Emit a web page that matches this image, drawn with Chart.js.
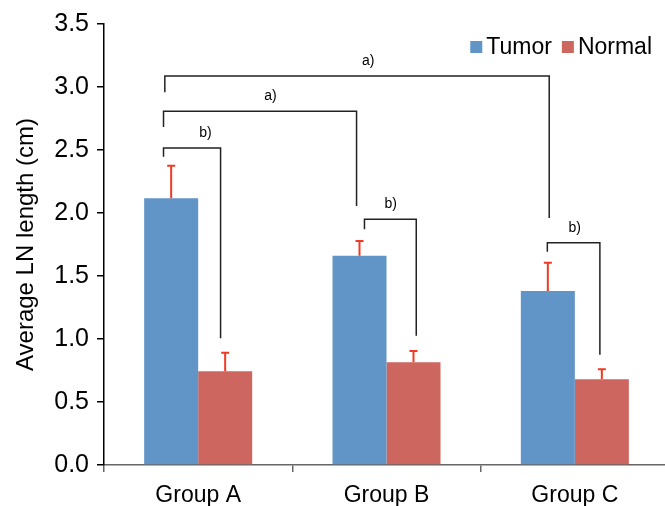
<!DOCTYPE html>
<html>
<head>
<meta charset="utf-8">
<script src="https://cdn.jsdelivr.net/npm/chart.js@4.4.0/dist/chart.umd.min.js"></script>
<style>
html,body{margin:0;padding:0;background:#fff;overflow:hidden;}
</style>
</head>
<body>
<canvas id="lnChart" width="671" height="506"></canvas>
<script>
"use strict";
var groups = ["Group A", "Group B", "Group C"];
var tumorMean = [2.117, 1.661, 1.381];
var tumorErr = [0.258, 0.117, 0.225];
var normalMean = [0.744, 0.815, 0.68];
var normalErr = [0.147, 0.09, 0.08];
var yTicks = [0, 0.5, 1.0, 1.5, 2.0, 2.5, 3.0, 3.5];

// significance brackets, x in category units, y in cm
var brackets = [
    {x1: -0.184, x2: 0.119, top: 2.516, left: 2.447, right: 1.005, label: "b)", lx: 0.039},
    {x1: -0.184, x2: 0.841, top: 2.807, left: 2.683, right: 2.056, label: "a)", lx: 0.384},
    {x1: -0.177, x2: 1.864, top: 3.087, left: 2.958, right: 1.96, label: "a)", lx: 0.903},
    {x1: 0.883, x2: 1.158, top: 1.950, left: 1.871, right: 1.026, label: "b)", lx: 1.022},
    {x1: 1.854, x2: 2.133, top: 1.764, left: 1.693, right: 0.875, label: "b)", lx: 1.999}
];

var FONT = "'Liberation Sans', Arial, Helvetica, sans-serif";

var errorBars = {
    id: "errorBars",
    afterDatasetsDraw: function (chart) {
        var ctx = chart.ctx;
        var y = chart.scales.y;
        var errs = [tumorErr, normalErr];
        ctx.save();
        ctx.strokeStyle = "#EE3B24";
        ctx.lineWidth = 2;
        chart.data.datasets.forEach(function (ds, i) {
            var meta = chart.getDatasetMeta(i);
            meta.data.forEach(function (bar, j) {
                var top = y.getPixelForValue(ds.data[j] + errs[i][j]);
                ctx.beginPath();
                ctx.moveTo(bar.x, bar.y);
                ctx.lineTo(bar.x, top);
                ctx.moveTo(bar.x - 4, top);
                ctx.lineTo(bar.x + 4, top);
                ctx.stroke();
            });
        });
        ctx.restore();
    }
};

var extras = {
    id: "extras",
    afterDraw: function (chart) {
        var ctx = chart.ctx;
        var xs = chart.scales.x, ys = chart.scales.y;
        ctx.save();
        // brackets
        ctx.strokeStyle = "#222";
        ctx.lineWidth = 1.5;
        ctx.fillStyle = "#000";
        ctx.font = "14px " + FONT;
        ctx.textAlign = "center";
        ctx.textBaseline = "bottom";
        brackets.forEach(function (b) {
            var x1 = xs.getPixelForValue(b.x1), x2 = xs.getPixelForValue(b.x2);
            var t = ys.getPixelForValue(b.top);
            ctx.beginPath();
            ctx.moveTo(x1, ys.getPixelForValue(b.left));
            ctx.lineTo(x1, t);
            ctx.lineTo(x2, t);
            ctx.lineTo(x2, ys.getPixelForValue(b.right));
            ctx.stroke();
            ctx.fillText(b.label, xs.getPixelForValue(b.lx), t - 8);
        });

        // legend
        ctx.font = "23px " + FONT;
        ctx.textAlign = "left";
        ctx.textBaseline = "middle";
        var box = 12, gap = 4, sep = 10;
        var total = 0;
        chart.data.datasets.forEach(function (ds, i) {
            total += box + gap + ctx.measureText(ds.label).width + (i ? sep : 0);
        });
        var x = 652 - total, ly = 47;
        chart.data.datasets.forEach(function (ds, i) {
            if (i) x += sep;
            ctx.fillStyle = ds.backgroundColor;
            ctx.fillRect(x, ly - box / 2, box, box);
            x += box + gap;
            ctx.fillStyle = "#000";
            ctx.fillText(ds.label, x, ly + 1);
            x += ctx.measureText(ds.label).width;
        });
        ctx.restore();
    }
};

var chart = new Chart(document.getElementById("lnChart"), {
    type: "bar",
    data: {
        labels: groups,
        datasets: [
            {label: "Tumor", data: tumorMean, backgroundColor: "#6195C8"},
            {label: "Normal", data: normalMean, backgroundColor: "#CC665F"}
        ]
    },
    options: {
        responsive: false,
        animation: false,
        layout: {padding: {top: 24, right: 2, left: 0, bottom: 0}},
        datasets: {bar: {categoryPercentage: 0.5735, barPercentage: 1.0}},
        plugins: {legend: {display: false}, tooltip: {enabled: false}},
        scales: {
            x: {
                ticks: {color: "#000", font: {family: FONT, size: 23}, padding: 10},
                grid: {drawOnChartArea: false, drawTicks: true, tickLength: 7, color: "#666", lineWidth: 1.5, offset: true},
                border: {color: "#666", width: 1.5},
                afterFit: function (s) { s.height = 41; }
            },
            y: {
                min: 0,
                max: 3.5,
                afterBuildTicks: function (s) {
                    s.ticks = yTicks.map(function (v) { return {value: v}; });
                },
                ticks: {
                    color: "#000", font: {family: FONT, size: 25}, padding: 8,
                    callback: function (v) { return v.toFixed(1); }
                },
                grid: {drawOnChartArea: false, drawTicks: true, tickLength: 7, color: "#000", lineWidth: 1.5},
                border: {color: "#000", width: 1.5},
                title: {
                    display: true, text: "Average LN length (cm)", color: "#000",
                    font: {family: FONT, size: 24}, padding: {top: 12, bottom: 0}
                },
                afterFit: function (s) { s.width = 104; }
            }
        }
    },
    plugins: [errorBars, extras]
});
</script>
</body>
</html>
